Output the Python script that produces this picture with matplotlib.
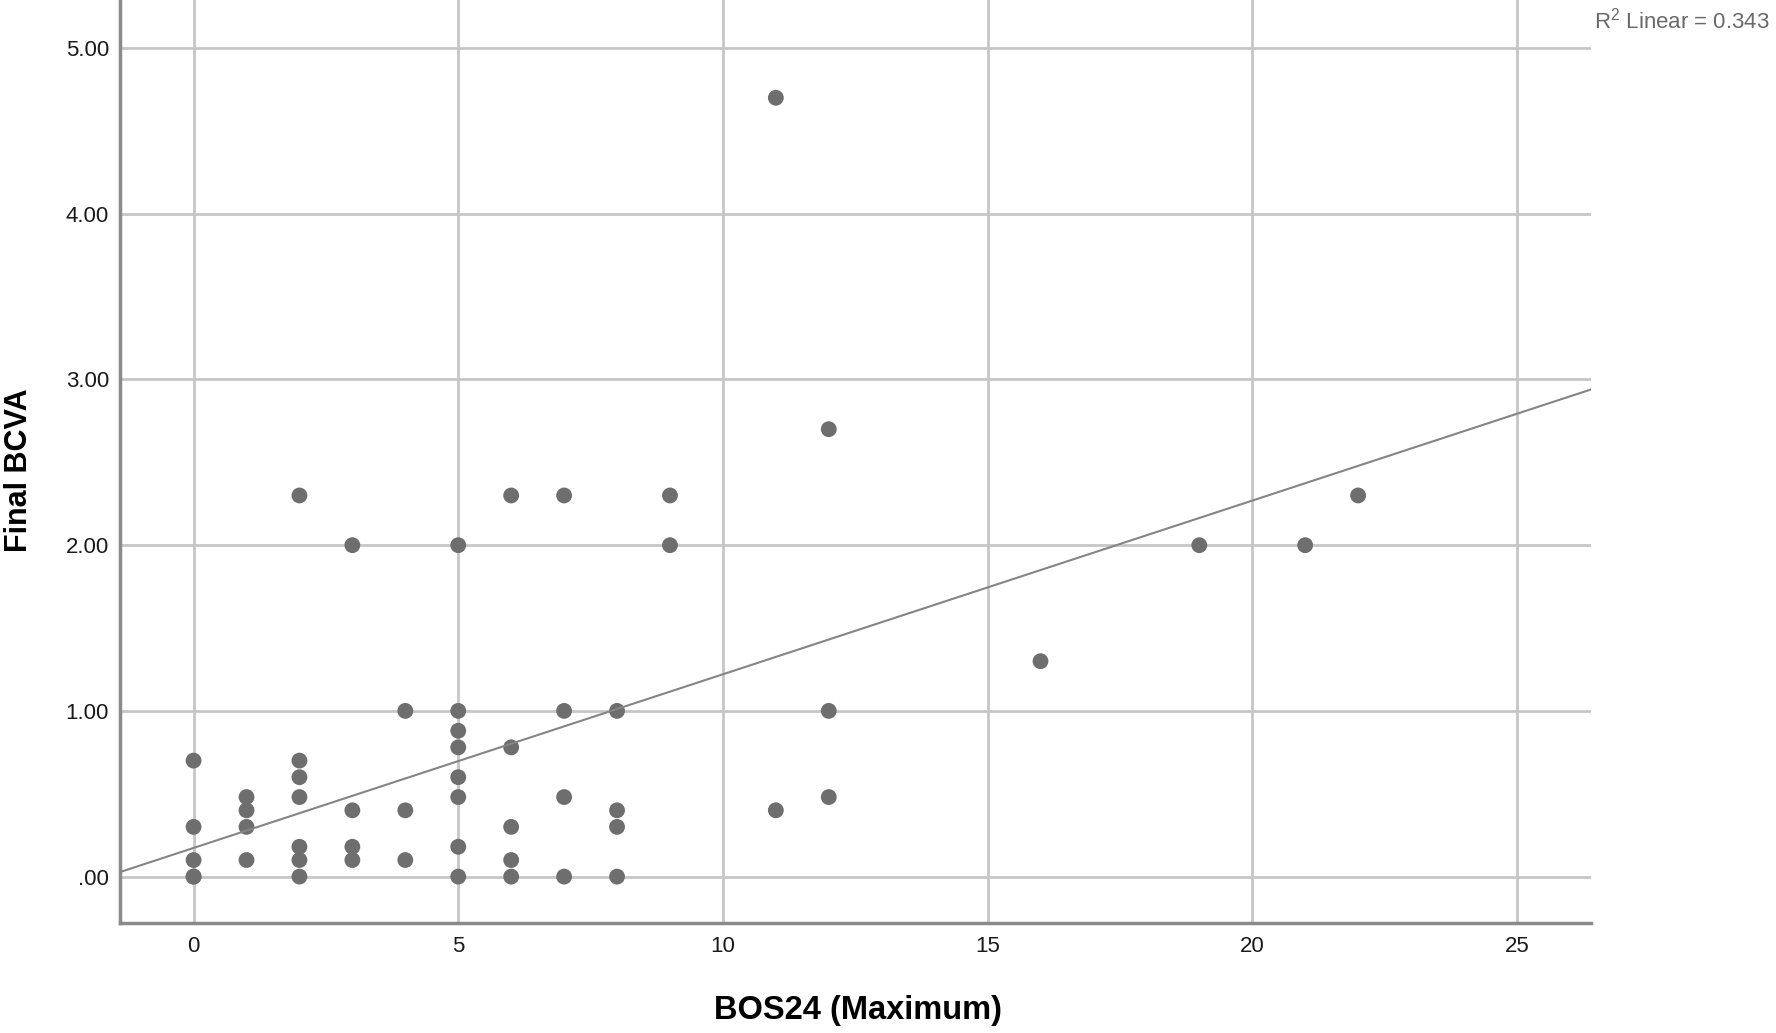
import numpy as np
import matplotlib
matplotlib.use("Agg")
import matplotlib.pyplot as plt

# Data
bos24 = [0, 0, 0, 0, 0,
         1, 1, 1, 1,
         2, 2, 2, 2, 2, 2, 2,
         3, 3, 3, 3,
         4, 4, 4,
         5, 5, 5, 5, 5, 5, 5, 5,
         6, 6, 6, 6, 6,
         7, 7, 7, 7,
         8, 8, 8, 8,
         9, 9,
         11, 11,
         12, 12, 12,
         16, 19, 21, 22]
final_bcva = [0.70, 0.30, 0.10, 0.00, 0.00,
              0.48, 0.40, 0.30, 0.10,
              2.30, 0.70, 0.60, 0.48, 0.18, 0.10, 0.00,
              2.00, 0.40, 0.18, 0.10,
              1.00, 0.40, 0.10,
              2.00, 1.00, 0.88, 0.78, 0.60, 0.48, 0.18, 0.00,
              2.30, 0.78, 0.30, 0.10, 0.00,
              2.30, 1.00, 0.48, 0.00,
              1.00, 0.40, 0.30, 0.00,
              2.30, 2.00,
              4.70, 0.40,
              2.70, 1.00, 0.48,
              1.30, 2.00, 2.00, 2.30]
# Linear fit line as drawn in the chart (intercept, slope)
fit_intercept = 0.173
fit_slope = 0.1048
x_ticks = [0, 5, 10, 15, 20, 25]
y_ticks = [0, 1, 2, 3, 4, 5]
y_tick_labels = [".00", "1.00", "2.00", "3.00", "4.00", "5.00"]
r2_text = "R$^2$ Linear = 0.343"

plt.rcParams['font.family'] = ['Liberation Sans', 'DejaVu Sans']
plt.rcParams['mathtext.fontset'] = 'custom'
plt.rcParams['mathtext.rm'] = 'Liberation Sans'

fig = plt.figure(figsize=(17.76, 10.33), dpi=100)
ax = fig.add_axes([120/1776, 1 - 923/1033, (1591-120)/1776, 923/1033])

xlim = (-1.39, 26.4)
ylim = (-0.28, 5.29)
ax.set_xlim(*xlim)
ax.set_ylim(*ylim)

ax.grid(True, color="#c6c6c6", linewidth=2.0, zorder=0)
ax.set_axisbelow(True)

ax.scatter(bos24, final_bcva, s=130, color="#6e6e6e", edgecolors="none", zorder=3)

xs = np.array(xlim)
ax.plot(xs, fit_intercept + fit_slope * xs, color="#858585", linewidth=1.5, zorder=4)

ax.set_xticks(x_ticks)
ax.set_yticks(y_ticks)
ax.set_yticklabels(y_tick_labels)
ax.tick_params(axis='both', length=0, labelsize=16, colors="#1a1a1a")
ax.tick_params(axis='y', pad=8)
ax.tick_params(axis='x', pad=9)

for s in ['top', 'right']:
    ax.spines[s].set_visible(False)
for s in ['left', 'bottom']:
    ax.spines[s].set_color("#8a8a8a")
    ax.spines[s].set_linewidth(2.5)

ax.set_xlabel("BOS24 (Maximum)", fontsize=23.5, fontweight='bold')
ax.set_ylabel("Final BCVA", fontsize=22, fontweight='bold')
ax.xaxis.label.set_va('center')
ax.xaxis.set_label_coords((858 - 120) / 1471, -(1011 - 923) / 923)
ax.yaxis.set_label_coords((19 - 120) / 1471, (923 - 470) / 923)
ax.yaxis.label.set_va('center')

fig.text(1594/1776, 1 - 28/1033, r2_text, fontsize=16, color="#6a6a6a",
         ha='left', va='baseline')

fig.savefig("out.png", dpi=100)
